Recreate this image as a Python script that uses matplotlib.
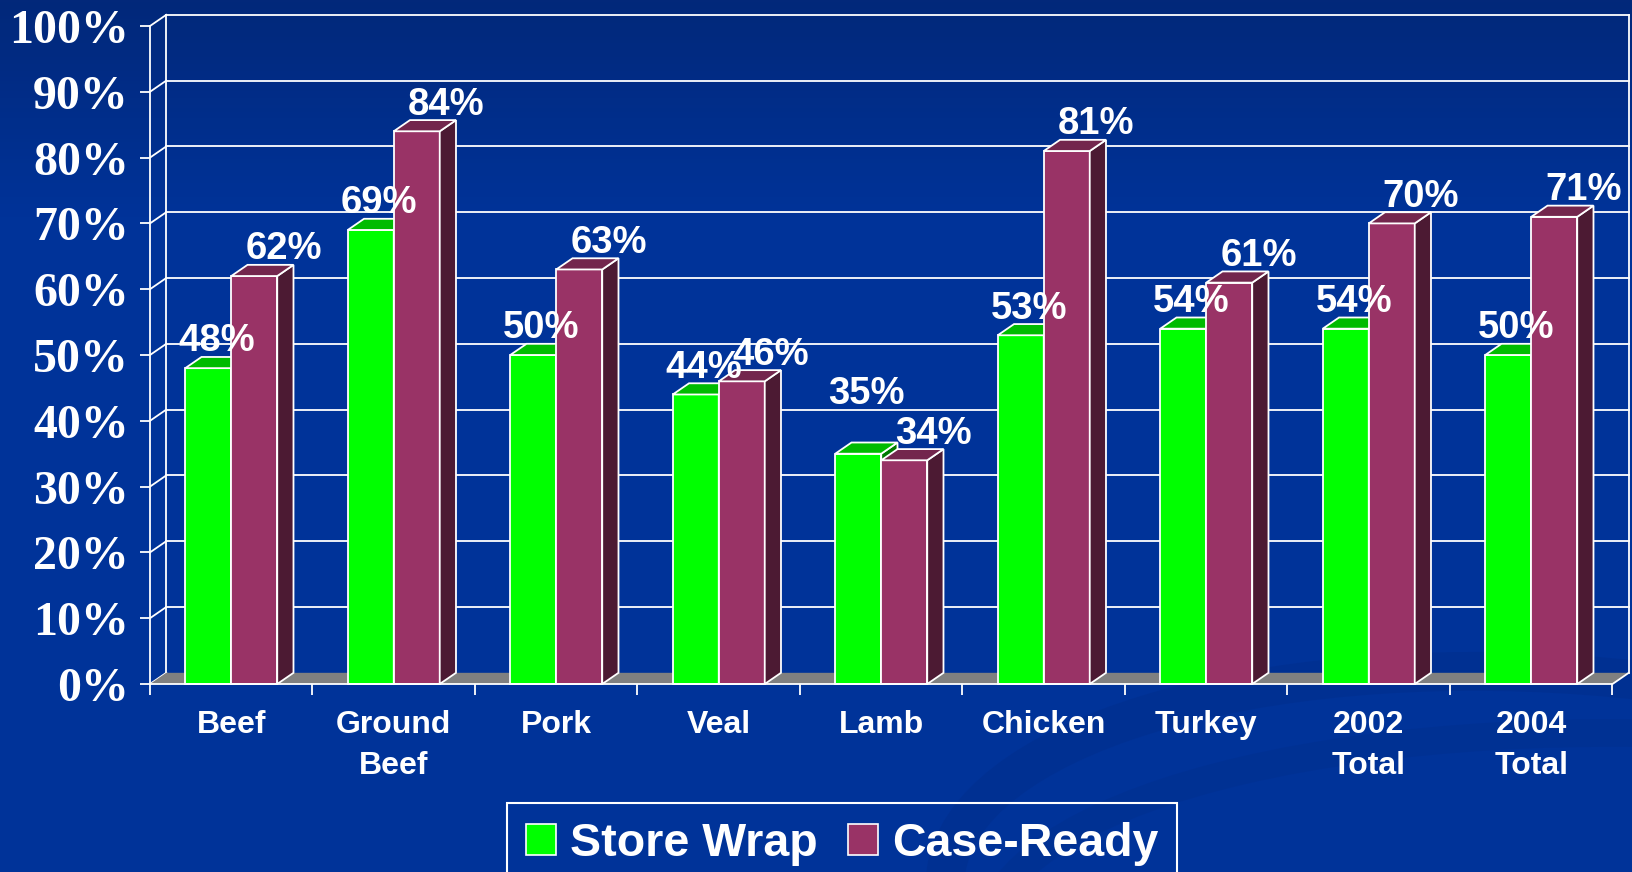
import numpy as np
import matplotlib.pyplot as plt
from matplotlib.patches import Polygon, Patch, Ellipse

# Данные
categories = ['Beef', 'Ground\nBeef', 'Pork', 'Veal', 'Lamb', 'Chicken', 'Turkey', '2002\nTotal', '2004\nTotal']
store_wrap = [48, 69, 50, 44, 35, 53, 54, 54, 50]
case_ready = [62, 84, 63, 46, 34, 81, 61, 70, 71]
series_names = ['Store Wrap', 'Case-Ready']
y_ticks = list(range(0, 101, 10))

# Цвета граней (передняя, верх, бок)
green = ('#00FF00', '#00BB00', '#007A00')
maroon = ('#993366', '#73264D', '#4C1A33')

W, H = 1633, 872
fig = plt.figure(figsize=(W / 100, H / 100), dpi=100)

# Фон с градиентом
bg = fig.add_axes([0, 0, 1, 1], zorder=-10)
grad = np.linspace(0, 1, 256).reshape(-1, 1)
top_c = np.array([0x02, 0x28, 0x7A]) / 255
bot_c = np.array([0x00, 0x33, 0x99]) / 255
t = np.clip(grad / 0.25, 0, 1)
img = top_c * (1 - t[..., None]) + bot_c * t[..., None]
bg.imshow(img, aspect='auto', extent=[0, 1, 0, 1], origin='upper')
# лёгкие «волны» внизу справа
bg.add_patch(Ellipse((0.95, -0.05), 0.75, 0.55, angle=-12, facecolor='none',
                     edgecolor='#002E8C', linewidth=28, alpha=0.5))
bg.add_patch(Ellipse((1.05, -0.12), 0.9, 0.55, angle=-8, facecolor='none',
                     edgecolor='#002E8C', linewidth=20, alpha=0.4))
bg.set_xlim(0, 1)
bg.set_ylim(0, 1)
bg.axis('off')

ax = fig.add_axes([150 / W, (H - 684) / H, 1462.5 / W, 658 / H])
ax.set_facecolor('none')
n = len(categories)
ax.set_xlim(0, n)
ax.set_ylim(0, 100)

ddx, ddy = 0.1, 1.7   # смещение в глубину
lw = 1.3

# Левая стенка и сетка задней стенки
for v in y_ticks:
    ax.plot([0, ddx], [v, v + ddy], color='white', lw=lw, clip_on=False, zorder=1)
    if v > 0:
        ax.plot([ddx, n + ddx], [v + ddy, v + ddy], color='white', lw=lw, clip_on=False, zorder=1)
ax.plot([ddx, ddx], [ddy, 100 + ddy], color='white', lw=lw, clip_on=False, zorder=1)
ax.plot([n + ddx, n + ddx], [ddy, 100 + ddy], color='white', lw=lw, clip_on=False, zorder=1)

# Пол
floor = Polygon([[0, 0], [n, 0], [n + ddx, ddy], [ddx, ddy]], closed=True,
                facecolor='#808080', edgecolor='none', clip_on=False, zorder=2)
ax.add_patch(floor)
ax.plot([n, n + ddx], [0, ddy], color='white', lw=lw, clip_on=False, zorder=2)

bw = 0.283
x = np.arange(n)
x_green = x + 0.5 - bw
x_maroon = x + 0.5


def draw_bars(xs, vals, cols, z):
    ax.bar(xs, vals, width=bw, align='edge', color=cols[0], edgecolor='white',
           linewidth=lw, zorder=z, clip_on=False)
    for x0, v in zip(xs, vals):
        top = Polygon([[x0, v], [x0 + bw, v], [x0 + bw + ddx, v + ddy], [x0 + ddx, v + ddy]],
                      closed=True, facecolor=cols[1], edgecolor='white', lw=lw,
                      zorder=z, clip_on=False)
        side = Polygon([[x0 + bw, 0], [x0 + bw + ddx, ddy], [x0 + bw + ddx, v + ddy], [x0 + bw, v]],
                       closed=True, facecolor=cols[2], edgecolor='white', lw=lw,
                       zorder=z, clip_on=False)
        ax.add_patch(side)
        ax.add_patch(top)


draw_bars(x_green, store_wrap, green, 3)
draw_bars(x_maroon, case_ready, maroon, 4)

# Подписи значений
lab_font = dict(family='Liberation Sans', weight='bold', size=27.5, color='white')
for i in range(n):
    g, m = store_wrap[i], case_ready[i]
    lift = 24 if abs(g - m) <= 2 and g > m else 0
    ax.annotate(f'{g}%', (x_green[i] + bw / 2, g), xytext=(6, 12 + lift),
                textcoords='offset points', ha='center', va='baseline',
                zorder=10, **lab_font)
    ax.annotate(f'{m}%', (x_maroon[i] + bw / 2, m), xytext=(21, 12),
                textcoords='offset points', ha='center', va='baseline',
                zorder=10, **lab_font)

# Оси
for s in ['top', 'right']:
    ax.spines[s].set_visible(False)
for s in ['left', 'bottom']:
    ax.spines[s].set_color('white')
    ax.spines[s].set_linewidth(lw)
    ax.spines[s].set_zorder(5)

ax.set_yticks(y_ticks)
ax.set_yticklabels([f'{v}%' for v in y_ticks], family='Liberation Serif',
                   weight='bold', size=34.5, color='white')
ax.tick_params(axis='y', length=7.2, width=lw, color='white', pad=8)

ax.set_xticks(x + 0.5)
ax.set_xticklabels(categories, family='Liberation Sans', weight='bold', size=23,
                   color='white', linespacing=1.45)
ax.set_xticks(np.arange(n + 1), minor=True)
ax.tick_params(axis='x', which='major', length=0, pad=19)
ax.tick_params(axis='x', which='minor', length=8, width=lw, color='white')

# Легенда
handles = [Patch(facecolor=green[0], edgecolor='white', lw=1.2),
           Patch(facecolor=maroon[0], edgecolor='white', lw=1.2)]
leg = fig.legend(handles, series_names, loc='upper left',
                 bbox_to_anchor=(507 / W, 1 - 803 / H), ncol=2, fancybox=False,
                 edgecolor='white', facecolor='none', framealpha=1,
                 prop=dict(family='Liberation Sans', weight='bold', size=33.5),
                 labelcolor='white', handlelength=0.65, handleheight=0.65,
                 handletextpad=0.3, columnspacing=0.65, borderpad=0.4,
                 borderaxespad=0)
leg.get_frame().set_linewidth(1.5)

fig.savefig('out.png', dpi=100)
